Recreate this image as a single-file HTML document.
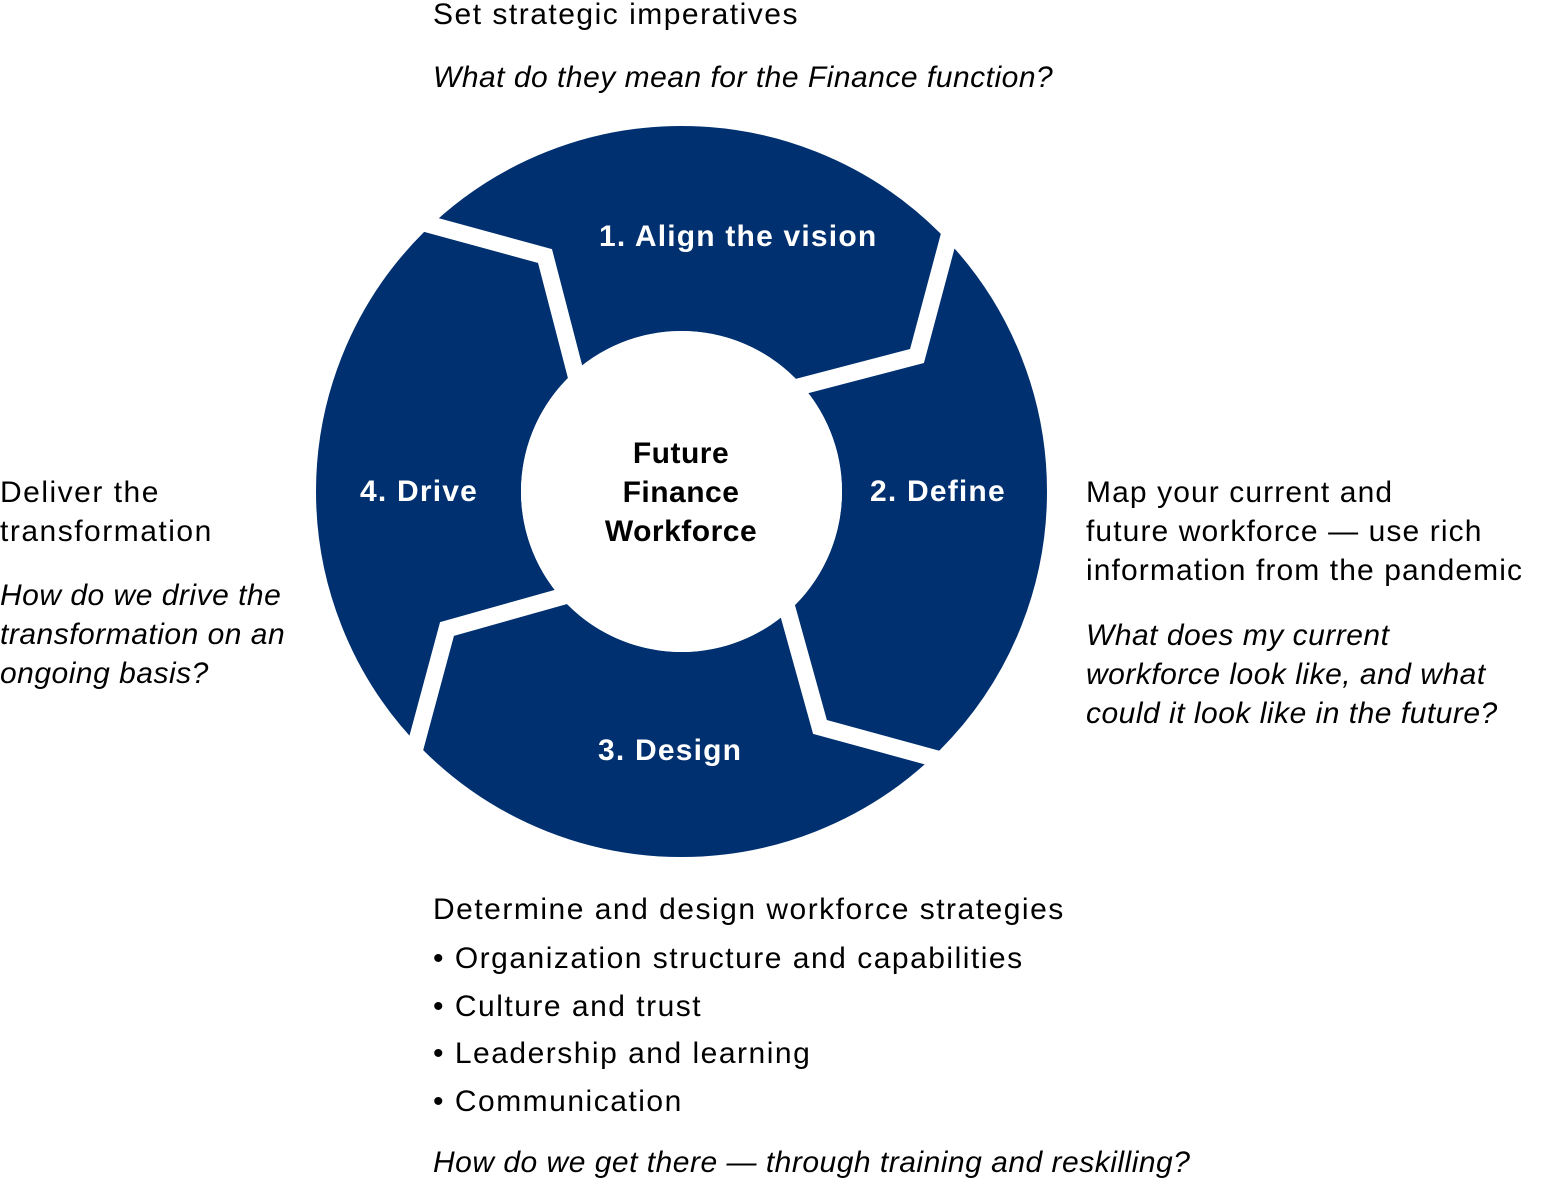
<!DOCTYPE html>
<html><head><meta charset="utf-8"><style>
body{margin:0;width:1560px;height:1182px;background:#fff;position:relative;overflow:hidden;font-family:"Liberation Sans",sans-serif;color:#000}
.t{position:absolute;font-size:30px;line-height:39px;white-space:nowrap;letter-spacing:1.5px}
.i{font-style:italic;letter-spacing:0.5px}
.w{position:absolute;color:#fff;font-weight:bold;font-size:30px;white-space:nowrap;letter-spacing:1.2px}
</style></head><body>
<svg width="1560" height="1182" style="position:absolute;left:0;top:0">
<circle cx="681.5" cy="491.5" r="263" fill="none" stroke="#003070" stroke-width="205"/>
<g fill="none" stroke="#fff" stroke-width="17" stroke-linejoin="miter">
<polyline points="380,211 545,256 585,410"/>
<polyline points="960,195 917,356 760,397"/>
<polyline points="775,565 820,727 985,772"/>
<polyline points="600,586 447,629 405,785"/>
</g>
<circle cx="681.5" cy="491.5" r="160.5" fill="#fff"/>
</svg>
<div class="w" style="left:599px;top:220px">1. Align the vision</div>
<div class="w" style="left:870px;top:475px">2. Define</div>
<div class="w" style="left:598px;top:734px">3. Design</div>
<div class="w" style="left:360px;top:475px">4. Drive</div>
<div style="position:absolute;left:571px;top:434px;width:220px;text-align:center;font-weight:bold;font-size:30px;line-height:39px;letter-spacing:0.5px">Future<br>Finance<br>Workforce</div>
<div class="t" style="left:433px;top:-5px">Set strategic imperatives</div>
<div class="t i" style="left:433px;top:58px">What do they mean for the Finance function?</div>
<div class="t" style="left:0;top:473px">Deliver the<br>transformation</div>
<div class="t i" style="left:0;top:576px">How do we drive the<br>transformation on an<br>ongoing basis?</div>
<div class="t" style="left:1086px;top:473px;letter-spacing:1.1px">Map your current and<br>future workforce — use rich<br>information from the pandemic</div>
<div class="t i" style="left:1086px;top:616px">What does my current<br>workforce look like, and what<br>could it look like in the future?</div>
<div class="t" style="left:433px;top:890px">Determine and design workforce strategies</div>
<div class="t" style="left:433px;top:935px;line-height:47.5px">• Organization structure and capabilities<br>• Culture and trust<br>• Leadership and learning<br>• Communication</div>
<div class="t i" style="left:433px;top:1143px">How do we get there — through training and reskilling?</div>
</body></html>
